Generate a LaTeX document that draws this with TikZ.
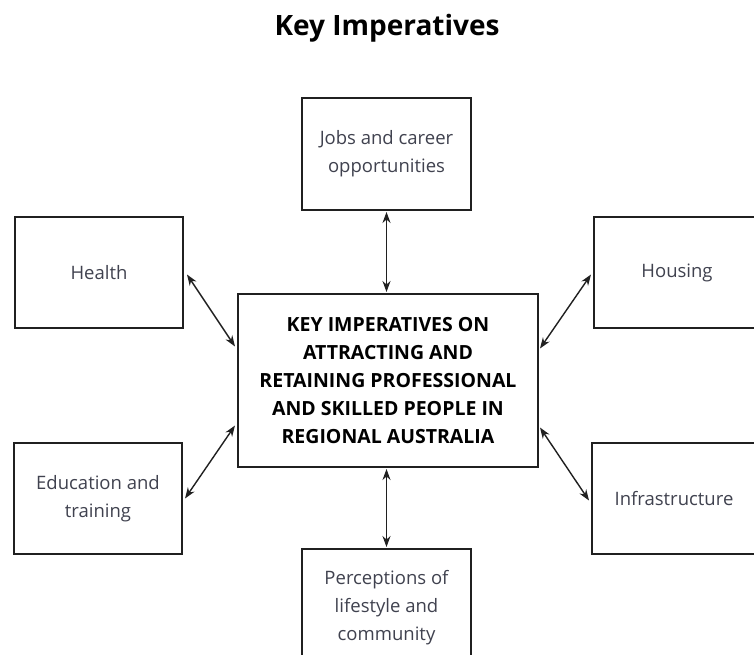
\documentclass[tikz,border=0pt]{standalone}
\usepackage{fontspec}
\setmainfont{Open Sans}
\usetikzlibrary{arrows.meta,calc}
\definecolor{boxtext}{HTML}{40424F}
\definecolor{frame}{HTML}{202020}
\begin{document}
\begin{tikzpicture}[x=1pt,y=-1pt,
  factor/.style={draw=frame,line width=2pt,fill=white,inner sep=0pt,align=center,
    text=boxtext,font=\fontsize{18.5}{28}\selectfont},
  core/.style={draw=frame,line width=2pt,fill=white,inner sep=0pt,align=center,
    text=black,font=\bfseries\fontsize{19.5}{28}\selectfont},
  link/.style={line width=1.4pt,draw=frame,
    {Stealth[length=11pt,width=8pt]}-{Stealth[length=11pt,width=8pt]}}]
\useasboundingbox (0,0) rectangle (754,654);
\clip (0,0) rectangle (754,654);

\node[font=\bfseries\fontsize{28}{32}\selectfont] (title) at (387,28) {Key Imperatives};

\node[core,minimum width=300pt,minimum height=173pt] (hub) at (388,380.5)
  {KEY IMPERATIVES ON\\ATTRACTING AND\\RETAINING PROFESSIONAL\\AND SKILLED PEOPLE IN\\REGIONAL AUSTRALIA};

\node[factor,minimum width=169pt,minimum height=112pt] (jobs) at (386.5,154)
  {Jobs and career\\opportunities};
\node[factor,minimum width=168pt,minimum height=111pt] (health) at (99,272.5)
  {Health};
\node[factor,minimum width=166pt,minimum height=111pt] (housing) at (677,272.5)
  {Housing};
\node[factor,minimum width=168pt,minimum height=111pt] (edu) at (98,498.5)
  {Education and\\training};
\node[factor,minimum width=164pt,minimum height=111pt] (infra) at (674,498.5)
  {Infrastructure};
\node[factor,minimum width=169pt,minimum height=112pt,text depth=0pt] (life) at (386.5,605)
  {Perceptions of\\lifestyle and\\community};

\draw[link] ($(jobs.south)+(0,1)$) -- ($(hub.north)+(-1.5,-1)$);
\draw[link] ($(life.north)+(0,-1)$) -- ($(hub.south)+(-1.5,1)$);
\draw[link] ($(health.east)+(3,2)$) -- ($(hub.west)+(-2,-34)$);
\draw[link] ($(housing.west)+(-2,2)$) -- ($(hub.east)+(1,-32)$);
\draw[link] ($(edu.east)+(2,0)$) -- ($(hub.west)+(-2,45)$);
\draw[link] ($(infra.west)+(-2,2)$) -- ($(hub.east)+(1,47)$);
\end{tikzpicture}
\end{document}
